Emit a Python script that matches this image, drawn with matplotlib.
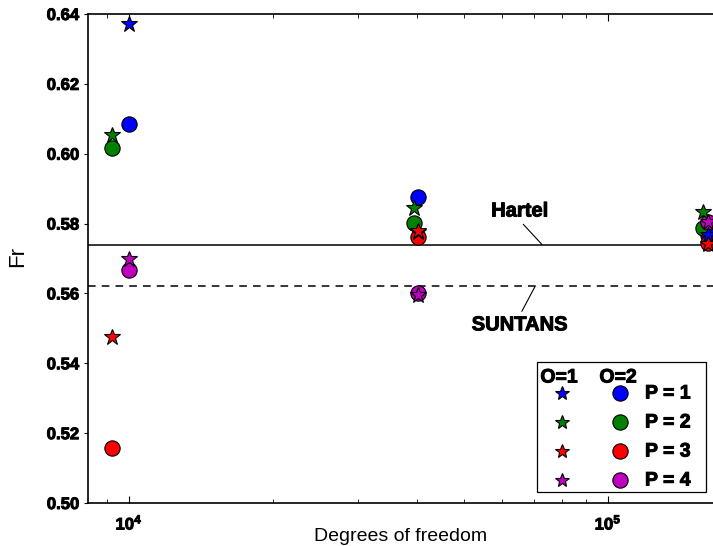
import numpy as np
import matplotlib
matplotlib.use("Agg")
import matplotlib.pyplot as plt
import matplotlib.patheffects as pe
from matplotlib.patches import Rectangle

plt.rcParams["font.family"] = ["Liberation Sans", "DejaVu Sans"]

# Froude number vs. degrees of freedom, order O and polynomial degree P
p_labels = ["P = 1", "P = 2", "P = 3", "P = 4"]
colors = ["b", "g", "r", "m"]

dof = [
    [1.00e4, 4.01e4, 1.62e5],   # P = 1
    [9.21e3, 3.94e4, 1.58e5],   # P = 2
    [9.21e3, 4.01e4, 1.62e5],   # P = 3
    [1.00e4, 4.01e4, 1.62e5],   # P = 4
]
fr_o1 = [
    [0.6371, 0.5775, 0.5767],
    [0.6054, 0.5845, 0.5833],
    [0.5475, 0.5779, 0.5742],
    [0.5699, 0.5595, 0.5805],
]
fr_o2 = [
    [0.6085, 0.5876, 0.5767],
    [0.6017, 0.5802, 0.5787],
    [0.5158, 0.5762, 0.5745],
    [0.5667, 0.5601, 0.5805],
]
fr_hartel = 0.574
fr_suntans = 0.562

heavy = [pe.withStroke(linewidth=0.7, foreground="k")]

fig = plt.figure(figsize=(7.13, 5.46), dpi=100)
ax = fig.add_axes([88 / 713, 43 / 546, 625 / 713, 489 / 546])

for x, y, c in zip(dof, fr_o2, colors):
    ax.plot(x, y, "o", color=c, ms=11, mec="k", mew=0.8, zorder=3)
for x, y, c in zip(dof, fr_o1, colors):
    ax.plot(x, y, "*", color=c, ms=12, mec="k", mew=0.8, zorder=4)

ax.axhline(fr_hartel, color="k", lw=1.1, zorder=2)
ax.axhline(fr_suntans, color="k", lw=1.1, ls=(0, (5, 4)), zorder=2)

ax.annotate("Hartel", xy=(7.28e4, fr_hartel), xytext=(6.54e4, 0.5836),
            ha="center", va="center", fontsize=14.5, fontweight="bold",
            path_effects=heavy,
            arrowprops=dict(arrowstyle="-", lw=0.8, color="k",
                            relpos=(0.5, 0.0), shrinkA=1, shrinkB=0))
ax.annotate("SUNTANS", xy=(7.04e4, fr_suntans), xytext=(6.54e4, 0.5510),
            ha="center", va="center", fontsize=14.5, fontweight="bold",
            path_effects=heavy,
            arrowprops=dict(arrowstyle="-", lw=0.8, color="k",
                            relpos=(0.5, 1.0), shrinkA=1, shrinkB=0))

ax.set_xscale("log")
ax.set_xlim(8.21e3, 1.656e5)
ax.set_ylim(0.50, 0.64)
yt = np.arange(0.50, 0.641, 0.02)
ax.set_yticks(yt)
ax.set_yticklabels([f"{v:.2f}" for v in yt], fontweight="bold", fontsize=12)
ax.tick_params(axis="x", which="both", direction="in", top=True,
               labelsize=12, pad=7)
ax.tick_params(axis="x", which="major", length=5)
ax.tick_params(axis="x", which="minor", length=3)
ax.tick_params(axis="y", direction="out", length=3)
for lab in ax.get_xticklabels() + ax.get_yticklabels():
    lab.set_fontweight("bold")
    lab.set_path_effects(heavy)
ax.spines["right"].set_visible(False)
for s in ["left", "bottom", "top"]:
    ax.spines[s].set_linewidth(1.2)

ax.set_xlabel("Degrees of freedom", fontsize=14)
ax.xaxis.set_label_coords(0.5, -0.052)
ax.set_ylabel("Fr", fontsize=16)
ax.yaxis.set_label_coords(-0.096, 0.505)

# hand-built legend: star = O=1, circle = O=2
tr = ax.transAxes
def to_ax(px, py):
    return (px - 88) / 625, (503 - py) / 489

x0, y0 = to_ax(537, 492)
x1, y1 = to_ax(706, 362)
ax.add_patch(Rectangle((x0, y0), x1 - x0, y1 - y0, transform=tr,
                       facecolor="w", edgecolor="k", lw=0.9, zorder=5))
for hx, ht in [(559, "O=1"), (618, "O=2")]:
    ax.text(*to_ax(hx, 378), ht, transform=tr, ha="center", va="center",
            fontsize=14, fontweight="bold", zorder=6, path_effects=heavy)
for i, (lab, c) in enumerate(zip(p_labels, colors)):
    ry = 393 + i * 29
    ax.plot(*to_ax(562, ry), "*", color=c, ms=10, mec="k", mew=0.8,
            transform=tr, zorder=6, clip_on=False)
    ax.plot(*to_ax(620, ry), "o", color=c, ms=11, mec="k", mew=0.8,
            transform=tr, zorder=6, clip_on=False)
    ax.text(*to_ax(645, ry + 1), lab, transform=tr, ha="left", va="center",
            fontsize=14, fontweight="bold", zorder=6, path_effects=heavy)

fig.savefig("out.png", dpi=100)
